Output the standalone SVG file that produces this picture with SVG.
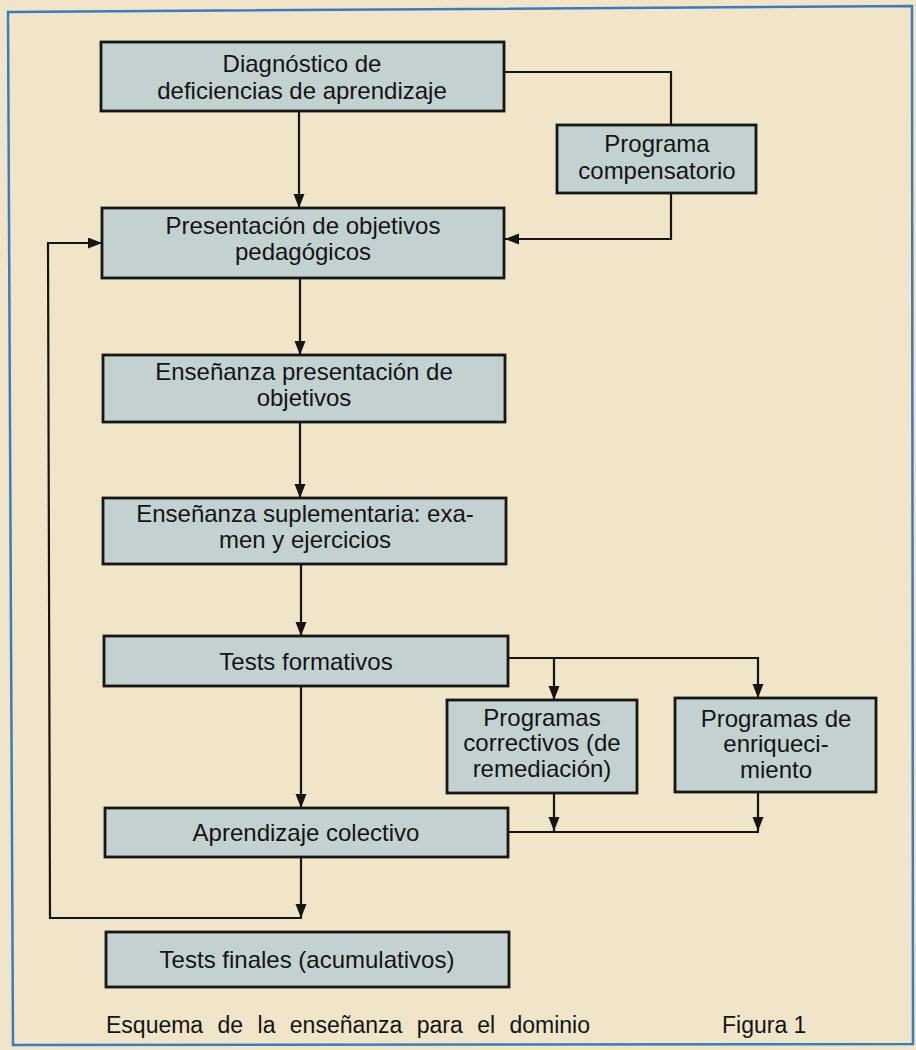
<svg xmlns="http://www.w3.org/2000/svg" width="916" height="1050" viewBox="0 0 916 1050">
  <defs>
    <marker id="arr" markerUnits="userSpaceOnUse" markerWidth="15" markerHeight="12" refX="14" refY="5.5" orient="auto">
      <path d="M0,0 L14,5.5 L0,11 z" fill="#151515"/>
    </marker>
    <style>
      .box { fill: #c3d2d1; stroke: #161616; stroke-width: 2.8; }
      .t { font-family: "Liberation Sans", Arial, sans-serif; font-size: 24px; fill: #141414; text-anchor: middle; }
      .cap { font-family: "Liberation Sans", Arial, sans-serif; font-size: 23px; fill: #141414; }
      .c { fill: none; stroke: #151515; stroke-width: 2.2; }
      .ca { fill: none; stroke: #151515; stroke-width: 2.2; marker-end: url(#arr); }
    </style>
  </defs>
  <rect x="0" y="0" width="916" height="1050" fill="#f1e5c9"/>
  <polygon points="8,12 912,6 913,1044 13,1045" fill="none" stroke="#3c7cbb" stroke-width="2.5"/>

  <g id="connectors">
    <line class="ca" x1="299" y1="111" x2="299" y2="208"/>
    <polyline class="c" points="504,72 671,72 671,125"/>
    <polyline class="ca" points="671,193 671,239 505,239"/>
    <line class="ca" x1="300" y1="278" x2="300" y2="355"/>
    <line class="ca" x1="300" y1="422" x2="300" y2="498"/>
    <line class="ca" x1="301" y1="564" x2="301" y2="636"/>
    <line class="ca" x1="301" y1="686" x2="301" y2="808"/>
    <polyline class="ca" points="508,658 758,658 758,698"/>
    <line class="ca" x1="554" y1="658" x2="554" y2="700"/>
    <line class="ca" x1="554" y1="793" x2="554" y2="831"/>
    <line class="ca" x1="758" y1="792" x2="758" y2="831"/>
    <line class="c" x1="508" y1="832" x2="759" y2="832"/>
    <line class="ca" x1="301" y1="857" x2="301" y2="918"/>
    <polyline class="ca" points="302,918 50,918 48,243 102,243"/>
  </g>

  <g id="n1">
    <rect class="box" x="101" y="42" width="403" height="69"/>
    <text class="t" x="302" y="72">Diagnóstico de</text>
    <text class="t" x="302" y="99">deficiencias de aprendizaje</text>
  </g>
  <g id="n-programa">
    <rect class="box" x="557" y="125" width="199" height="68"/>
    <text class="t" x="657" y="152">Programa</text>
    <text class="t" x="657" y="179">compensatorio</text>
  </g>
  <g id="n2">
    <rect class="box" x="102" y="208" width="402" height="70"/>
    <text class="t" x="303" y="234">Presentación de objetivos</text>
    <text class="t" x="303" y="260">pedagógicos</text>
  </g>
  <g id="n3">
    <rect class="box" x="103" y="355" width="402" height="67"/>
    <text class="t" x="304" y="380">Enseñanza presentación de</text>
    <text class="t" x="304" y="406">objetivos</text>
  </g>
  <g id="n4">
    <rect class="box" x="103" y="498" width="403" height="66"/>
    <text class="t" x="305" y="522">Enseñanza suplementaria: exa-</text>
    <text class="t" x="305" y="548">men y ejercicios</text>
  </g>
  <g id="n5">
    <rect class="box" x="104" y="636" width="404" height="50"/>
    <text class="t" x="306" y="670">Tests formativos</text>
  </g>
  <g id="n-correctivos">
    <rect class="box" x="447" y="700" width="190" height="93"/>
    <text class="t" x="542" y="726">Programas</text>
    <text class="t" x="542" y="751">correctivos (de</text>
    <text class="t" x="542" y="777">remediación)</text>
  </g>
  <g id="n-enriquecimiento">
    <rect class="box" x="675" y="698" width="201" height="94"/>
    <text class="t" x="776" y="727">Programas de</text>
    <text class="t" x="776" y="752">enriqueci-</text>
    <text class="t" x="776" y="778">miento</text>
  </g>
  <g id="n6">
    <rect class="box" x="105" y="808" width="403" height="49"/>
    <text class="t" x="306" y="841">Aprendizaje colectivo</text>
  </g>
  <g id="n7">
    <rect class="box" x="106" y="932" width="403" height="55"/>
    <text class="t" x="307" y="968">Tests finales (acumulativos)</text>
  </g>

  <g id="caption">
    <text class="cap" x="106" y="1033" word-spacing="8">Esquema de la enseñanza para el dominio</text>
    <text class="cap" x="722" y="1033">Figura 1</text>
  </g>
</svg>
